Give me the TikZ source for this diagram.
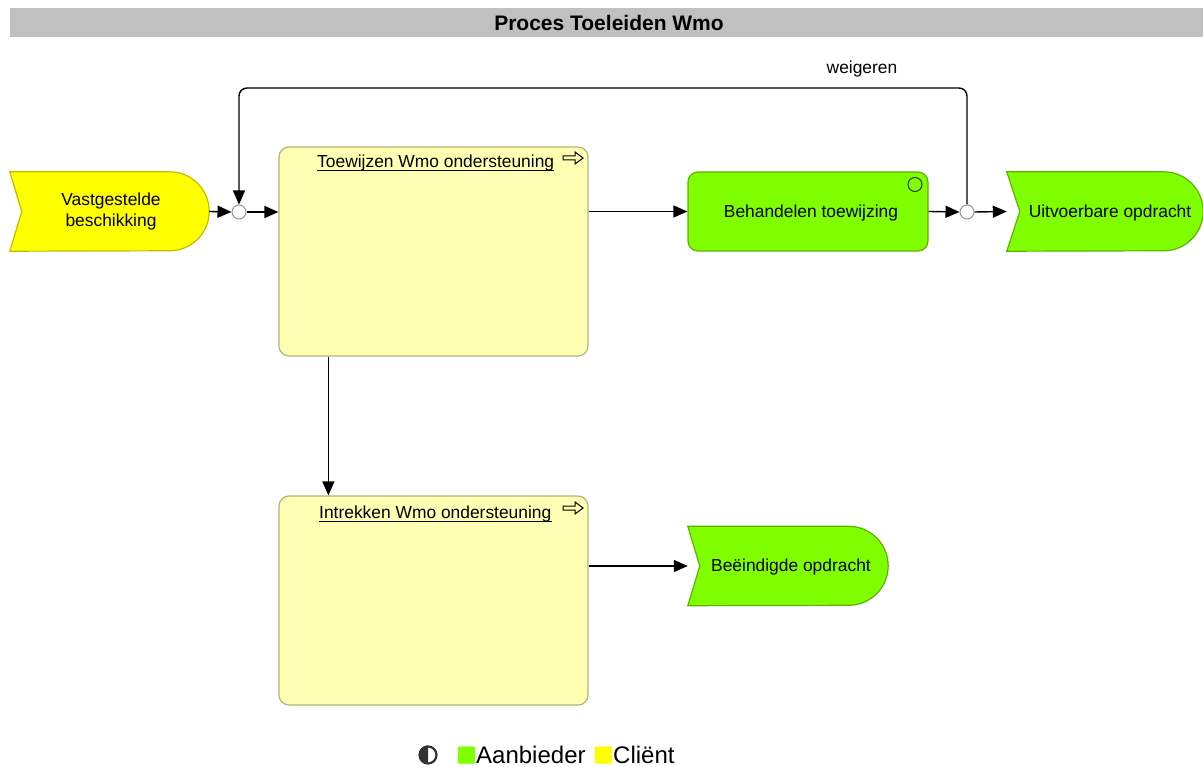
\documentclass[tikz,border=0pt]{standalone}
\usepackage{fontspec}
\setmainfont{Liberation Sans}
\usetikzlibrary{arrows.meta,calc}
\definecolor{titlegray}{RGB}{192,192,192}
\definecolor{procfill}{RGB}{255,255,180}
\definecolor{procdraw}{RGB}{180,180,120}
\definecolor{grnfill}{RGB}{128,255,0}
\definecolor{grndraw}{RGB}{90,180,0}
\definecolor{yelfill}{RGB}{255,255,0}
\definecolor{yeldraw}{RGB}{190,190,0}
\definecolor{jdraw}{RGB}{150,150,150}
\newcommand\evshape[3]{%
  \draw[#2] (#1.north west) -- ($(#1.north east)+(-39.5,0)$)
    arc[start angle=-90,end angle=90,radius=39.5] -- (#1.south west)
    -- ($(#1.west)+(#3,0)$) -- cycle;}
\newcommand\openarrow[1]{%
  \draw[line width=1pt,line join=miter] ($(#1)+(-10,-2)$) -- ($(#1)+(2,-2)$) -- ($(#1)+(2,-6)$)
   -- ($(#1)+(10,0)$) -- ($(#1)+(2,6)$) -- ($(#1)+(2,2)$) -- ($(#1)+(-10,2)$) -- cycle;}
\begin{document}
\begin{tikzpicture}[x=1pt,y=-1pt,
  txt/.style={font=\fontsize{17.4}{21}\selectfont, align=center},
  evbox/.style={minimum width=#1, minimum height=79, inner sep=0},
  procbox/.style={draw=procdraw, fill=procfill, line width=1.2pt, rounded corners=10,
     minimum width=309, minimum height=209, inner sep=0},
  actbox/.style={draw=grndraw, fill=grnfill, line width=1.2pt, rounded corners=10,
     minimum width=240, minimum height=79, inner sep=0},
  junc/.style={circle, draw=jdraw, fill=white, line width=1pt, minimum size=14, inner sep=0},
  arr/.style={line width=1.4pt, -{Triangle[length=14pt,width=12pt]}},
  evgreen/.style={draw=grndraw, fill=grnfill, line width=1.2pt},
  evyellow/.style={draw=yeldraw, fill=yelfill, line width=1.2pt},
  ttl/.style={txt, anchor=base west, inner sep=0}]
\useasboundingbox (0,0) rectangle (1203,767);
% title
\fill[titlegray] (10,8) rectangle (1203,37);
\node[font=\fontsize{21}{23}\selectfont\bfseries] (title) at (609,22.5) {Proces Toeleiden Wmo};
% event shapes (backgrounds)
\node[evbox=199] (vb) at (109.5,211.5) {};
\evshape{vb}{evyellow}{12}
\node[txt] (vbt) at (111,212) {Vastgestelde\\beschikking};
\node[evbox=196] (uo) at (1105,211.5) {};
\evshape{uo}{evgreen}{13}
\node[txt] (uot) at (1110,213) {Uitvoerbare opdracht};
\node[evbox=200] (bo) at (788,566) {};
\evshape{bo}{evgreen}{12}
\node[txt] (bot) at (791,567.5) {Beëindigde opdracht};
% process boxes
\node[procbox] (tw) at (433.5,251.5) {};
\node[ttl] (twt) at (317,168) {Toewijzen Wmo ondersteuning};
\draw[line width=1pt] ($(twt.base west)+(0,3)$) -- ($(twt.base east)+(0,3)$);
\openarrow{573,158}
\node[procbox] (ik) at (433.5,600.5) {};
\node[ttl] (ikt) at (319,518) {Intrekken Wmo ondersteuning};
\draw[line width=1pt] ($(ikt.base west)+(0,3)$) -- ($(ikt.base east)+(0,3)$);
\openarrow{573,508}
% activity
\node[actbox] (bt) at (808,211.5) {};
\node[txt] (btt) at (811,213) {Behandelen toewijzing};
\node[circle, draw=black!80, line width=1pt, minimum size=14, inner sep=0] (btc) at (915,184.5) {};
% junctions
\node[junc] (j1) at (239,212) {};
\node[junc] (j2) at (967,212) {};
\coordinate (loop) at (600,88);
% connectors
\draw[arr] (vb.east) -- (j1.west);
\draw[arr] (j1.east) -- (j1.east -| tw.west);
\draw[arr] (bt.west -| tw.east) -- (bt.west);
\draw[arr] (bt.east) -- (j2.west);
\draw[arr] (j2.east) -- (uo.west);
\draw[arr, rounded corners=8] (j2.north) -- (j2.north |- loop) -- (j1.north |- loop) -- (j1.north);
\node[txt] (weig) at (862,69) {weigeren};
\draw[arr] ($(tw.south west)+(50,0)$) -- ($(ik.north west)+(50,0)$);
\draw[arr] (bo.west -| ik.east) -- (bo.west);
% legend
\node[circle, draw=black!80, line width=2.2pt, minimum size=17, inner sep=0] (lic) at (428,755) {};
\fill[black!80] (lic.north) arc[start angle=-90,end angle=-270,radius=8.5] -- cycle;
\node[draw=grnfill, fill=grnfill, rounded corners=2, minimum size=17, inner sep=0] (lg) at (466.5,755) {};
\node[font=\fontsize{24}{26}\selectfont, anchor=west, inner sep=0] (lgt) at (476,755) {Aanbieder};
\node[draw=yelfill, fill=yelfill, rounded corners=2, minimum size=17, inner sep=0] (ly) at (603.5,755) {};
\node[font=\fontsize{24}{26}\selectfont, anchor=west, inner sep=0] (lyt) at (613,755) {Cliënt};
\end{tikzpicture}
\end{document}
